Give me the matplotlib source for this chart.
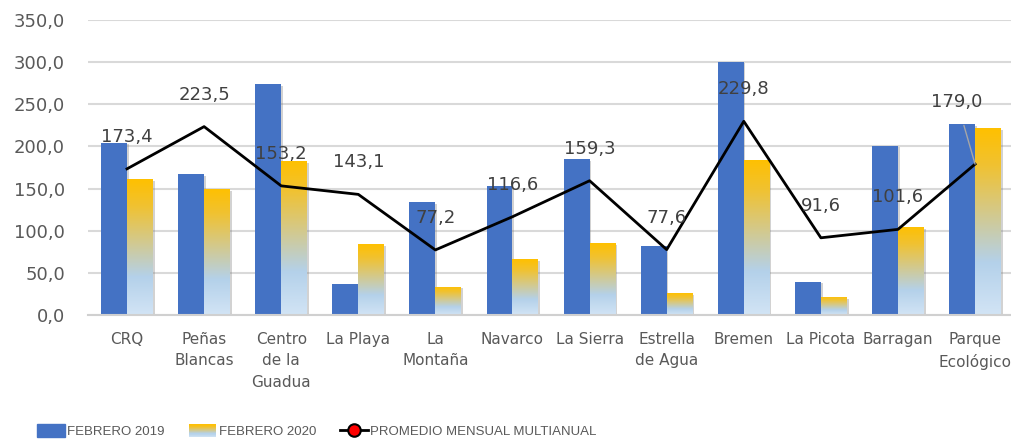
import matplotlib
matplotlib.use("Agg")
import matplotlib.pyplot as plt
import numpy as np
from matplotlib.colors import LinearSegmentedColormap
from matplotlib.legend_handler import HandlerBase
from matplotlib.lines import Line2D
from matplotlib.patches import Patch, Rectangle
from matplotlib.ticker import FuncFormatter
import matplotlib.patheffects as pe

categories = ["CRQ", "Peñas\nBlancas", "Centro\nde la\nGuadua", "La Playa", "La\nMontaña",
              "Navarco", "La Sierra", "Estrella\nde Agua", "Bremen", "La Picota",
              "Barragan", "Parque\nEcológico"]
feb_2019 = [204.4, 167.3, 274.0, 36.4, 134.0, 153.0, 185.0, 82.2, 300.5, 39.5, 200.8, 226.6]
feb_2020 = [161.3, 149.5, 182.7, 84.2, 33.6, 66.4, 85.4, 26.0, 183.9, 21.4, 104.4, 221.8]
promedio = [173.4, 223.5, 153.2, 143.1, 77.2, 116.6, 159.3, 77.6, 229.8, 91.6, 101.6, 179.0]

BLUE = "#4472C4"
TXT = "#595959"
grad_cmap = LinearSegmentedColormap.from_list(
    "feb2020", [(0.0, "#D2E4F5"), (0.28, "#B4D1EA"), (0.55, "#D4C98A"),
                (0.8, "#F0C232"), (1.0, "#FFC000")])


def comma(v, pos=None):
    return f"{v:.1f}".replace(".", ",")


class GradientHandler(HandlerBase):
    # legend swatch for the yellow-to-blue gradient bars
    def create_artists(self, legend, orig_handle, xdescent, ydescent, width, height, fontsize, trans):
        n = 24
        arts = []
        for i in range(n):
            r = Rectangle((-xdescent, -ydescent + height * i / n), width, height / n + 0.3,
                          facecolor=grad_cmap((i + 0.5) / n), edgecolor="none", transform=trans)
            arts.append(r)
        return arts


fig = plt.figure(figsize=(10.11, 4.42), dpi=100)
ax = fig.add_axes([0.0875, 0.2873, 0.9151, 0.6675])

x = np.arange(len(categories))
w = 0.337
shadow = [pe.SimplePatchShadow(offset=(1.2, -1.2), shadow_rgbFace="#7F7F7F", alpha=0.35), pe.Normal()]
b1 = ax.bar(x - w / 2, feb_2019, width=w, color=BLUE, zorder=2, path_effects=shadow)
b2 = ax.bar(x + w / 2, feb_2020, width=w, color="#FFC000", zorder=2, path_effects=shadow)

grad = np.linspace(0, 1, 256).reshape(-1, 1)
for bar in b2:
    x0, h = bar.get_x(), bar.get_height()
    im = ax.imshow(grad, extent=[x0, x0 + bar.get_width(), 0, h], origin="lower",
                   aspect="auto", cmap=grad_cmap, zorder=2.5)
    im.set_clip_path(bar)

ax.plot(x, promedio, color="black", lw=2, zorder=3)
for i, v in enumerate(promedio):
    if i == len(promedio) - 1:
        ax.annotate(comma(v), (x[i], v), xytext=(-13, 45), textcoords="offset points",
                    ha="center", va="center", fontsize=13, color="#404040", zorder=4,
                    arrowprops=dict(arrowstyle="-", color="#A6A6A6", lw=1, shrinkA=9, shrinkB=0))
    else:
        ax.annotate(comma(v), (x[i], v), xytext=(0, 23), textcoords="offset points",
                    ha="center", va="center", fontsize=13, color="#404040", zorder=4)

ax.set_xlim(-0.5, len(categories) - 0.5)
ax.set_ylim(0, 350)
ax.set_yticks(np.arange(0, 351, 50))
ax.yaxis.set_major_formatter(FuncFormatter(comma))
ax.set_xticks(x)
ax.set_xticklabels(categories, fontsize=11, color=TXT, linespacing=1.55)
ax.tick_params(axis="y", length=0, pad=17, labelsize=13, labelcolor=TXT)
ax.tick_params(axis="x", length=0, pad=12)
ax.grid(axis="y", color="#D9D9D9", lw=1.5)
ax.set_axisbelow(True)
for s in ["top", "right", "left"]:
    ax.spines[s].set_visible(False)
ax.spines["bottom"].set_color("#D0D0D0")
ax.spines["bottom"].set_linewidth(1.5)

handles = [Patch(color=BLUE), Patch(color="#FFC000"),
           Line2D([], [], color="black", lw=2, marker="o", markersize=9,
                  markerfacecolor="red", markeredgecolor="black", markeredgewidth=1.5)]
labels = ["FEBRERO 2019", "FEBRERO 2020", "PROMEDIO MENSUAL MULTIANUAL"]
fig.legend(handles, labels, loc="center left", bbox_to_anchor=(0.03, 0.024), ncol=3,
           frameon=False, borderpad=0, handlelength=2.1, handleheight=1.1, handletextpad=0.2,
           columnspacing=1.8, handler_map={handles[1]: GradientHandler()},
           prop={"family": "Liberation Sans", "size": 9.5},
           labelcolor=TXT)

fig.savefig("out.png", dpi=100)
